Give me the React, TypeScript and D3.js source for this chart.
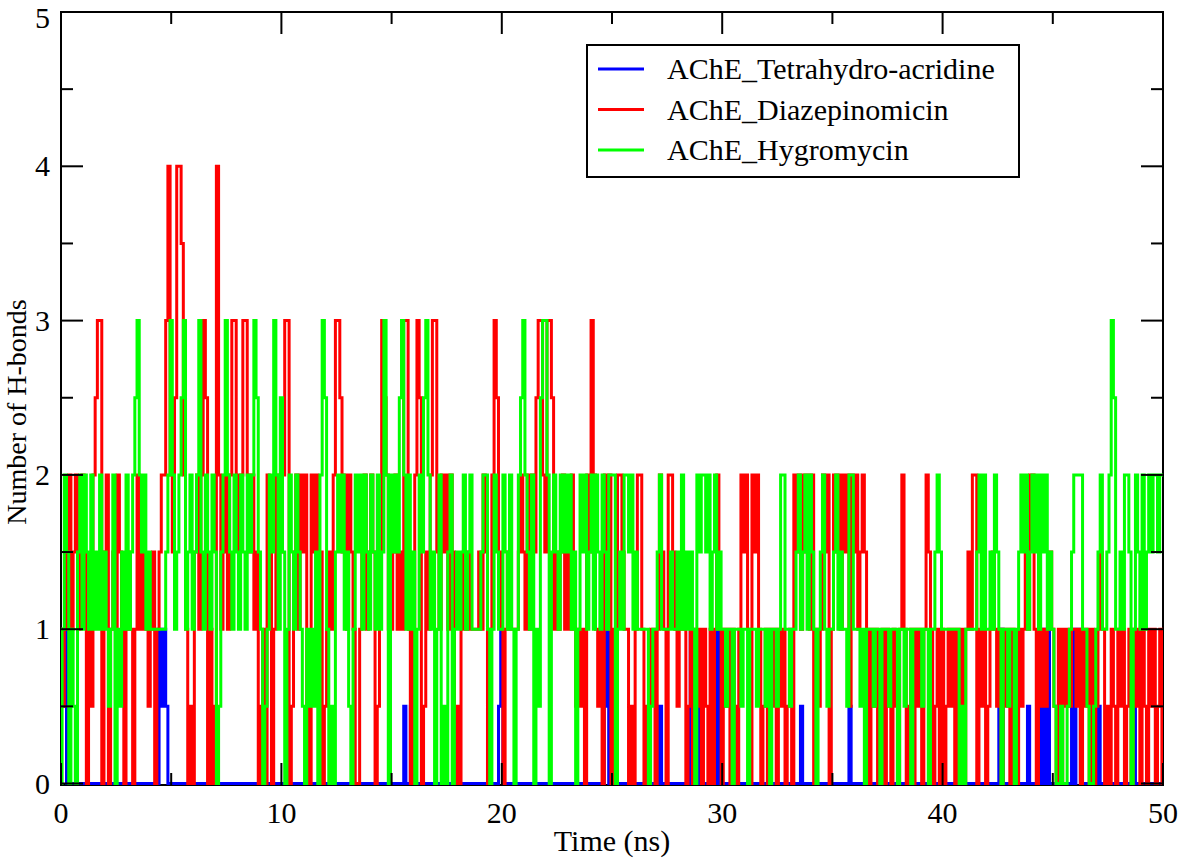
import React from 'react';
import * as d3 from 'd3';

const timeStep = 0.1;

const tetrahydroAcridine = [
  1, 0.5, 1, 0, 0, 0, 0, 0, 0, 0, 0, 0, 0, 0, 0, 0, 0, 0, 0, 0, 0, 0, 0, 0, 0, 0, 0, 0, 0, 0, 0, 0, 0, 0, 0, 0, 0, 0, 0, 0, 0, 0, 0, 0, 0, 1, 0.5, 1, 0.5, 0,
  0, 0, 0, 0, 0, 0, 0, 0, 0, 0, 0, 0, 0, 0, 0, 0, 0, 0, 0, 0, 0, 0, 0, 0, 0, 0, 0, 0, 0, 0, 0, 0, 0, 0, 0, 0, 0, 0, 0, 0, 0, 0, 0, 0, 0, 0, 0, 0, 0, 0,
  0, 0, 0, 0, 0, 0, 0, 0, 0, 0, 0, 0, 0, 0, 0, 0, 0, 0, 0, 0, 0, 0, 0, 0, 0, 0, 0, 0, 0, 0, 0, 0, 0, 0, 0, 0, 0, 0, 0, 0, 0, 0, 0, 0, 0, 0, 0, 0, 0, 0,
  0, 0, 0, 0, 0, 0, 0.5, 0, 0, 0.5, 0, 0, 0, 0, 0, 0, 0, 0, 0, 0, 0, 0, 0, 0, 0, 0, 0, 0, 0, 0, 0, 0, 0, 0, 0, 0, 0, 0, 0, 0, 0, 0, 0, 0, 0, 0, 0, 0, 0, 0.5,
  1, 0, 0, 0, 0, 0, 0, 0, 0, 0, 0, 0, 0, 0, 0, 0, 0, 0, 0, 0, 0, 0, 0, 0, 0, 0, 0, 0, 0, 0, 0, 0, 0, 0, 0, 0, 0, 0, 0, 0, 0, 0, 0, 0, 0, 0, 0, 0.5, 1, 0,
  0, 0, 0, 0, 0, 0, 0, 0, 0, 0, 0, 0, 0, 0, 0, 0, 0, 0, 0, 0, 0, 0, 0.5, 0, 0, 0, 0, 0, 0, 0, 0, 0, 0, 0, 0, 0, 1, 0, 0, 0, 0.5, 0, 0, 0, 0, 0, 0.5, 0, 1, 0,
  0, 0, 0, 0, 0, 0, 0, 0, 0, 0, 0, 0, 0, 0, 0, 0, 0, 0, 0, 0, 0, 0, 0, 0, 0, 0, 0, 0, 0, 0, 0, 0, 0, 0, 0, 0, 0.5, 0, 0, 0, 0, 0, 0, 0, 0, 0, 0, 0, 0, 0,
  0, 0, 0, 0, 0, 0, 0, 0, 0.5, 0, 0, 0, 0, 0, 0, 0, 0, 0, 0, 0, 0, 0, 0, 0, 0, 0, 0, 0, 0, 0, 0, 0, 0, 0, 0, 0, 0, 0, 0, 0, 0, 0, 0, 0, 0, 0, 0, 0, 0, 0,
  0, 0, 0, 0, 0, 0, 0, 0, 0, 0, 0, 0, 0, 0, 0, 0, 0, 0, 0, 0, 0, 0, 0, 0, 0, 0, 1, 1, 0, 0, 0, 0, 0, 0, 0, 0, 0, 0, 0, 0.5, 0, 0, 0, 0, 1, 0, 1, 0, 1, 0,
  0, 0, 0, 0, 0, 0, 0, 0, 0, 1, 0, 1, 1, 0, 0, 0, 0, 0, 0, 0, 0, 0.5, 0, 0, 0, 0, 0, 0, 0, 0, 0, 0, 0, 0, 0, 0, 0, 0.5, 0, 0, 0, 0, 0, 0, 0, 0, 0, 0, 0, 0, 0,
];

const diazepinomicin = [
  1, 0.5, 1, 1.5, 2, 1, 1.5, 2, 1, 1.5, 2, 1.5, 0, 1, 0.5, 2, 2.5, 3, 3, 0, 1.5, 2, 0, 1, 1.5, 1, 2, 1.5, 1, 0, 1, 1.5, 1, 0, 1, 2, 1, 1.5, 1, 1, 0.5, 1, 1.5, 0, 1, 1.5, 2, 2, 3, 4,
  2, 1.5, 2.5, 4, 4, 3.5, 2, 1, 0, 0.5, 0, 1.5, 2, 1, 2, 3, 2.5, 0, 1, 0, 0.5, 4, 2, 1, 1.5, 2, 1, 2, 3, 3, 2, 1.5, 2, 3, 3, 2, 1.5, 2, 1, 1.5, 0, 0.5, 1, 0, 2, 1.5, 0, 1, 2, 1.5,
  1.5, 2, 3, 3, 0, 0.5, 1.5, 2, 1, 2, 1.5, 2, 0.5, 0, 2, 1.5, 2, 1, 1.5, 0, 0.5, 1, 1.5, 1, 2, 3, 3, 2.5, 1.5, 2, 1, 2, 1.5, 1, 0, 0, 1, 1.5, 2, 1, 1.5, 2, 1.5, 0, 0.5, 1.5, 3, 2.5, 2, 1,
  1, 1.5, 2, 1, 1.5, 1, 3, 3, 1, 0, 1, 2, 3, 2.5, 0, 0.5, 1.5, 1, 2, 3, 3, 1.5, 1, 2, 1.5, 2, 1, 2, 1.5, 0, 0.5, 0, 1, 1.5, 1, 1.5, 1, 1, 1, 1, 1.5, 1, 2, 1.5, 0, 1, 2, 3, 2.5, 1.5,
  1, 0, 1, 1.5, 1, 1, 1, 1, 1.5, 2, 1.5, 1, 2, 1, 2, 1.5, 2.5, 3, 3, 2, 1.5, 3, 3, 2.5, 1, 1.5, 1, 1.5, 2, 1, 1.5, 1, 2, 1, 0.5, 1, 0.5, 1, 0, 2, 1.5, 3, 2, 1, 0.5, 1, 0, 2, 1, 2,
  0, 1, 0.5, 2, 2, 1.5, 1, 1, 0, 0.5, 0, 1, 2, 2, 1, 0, 0.5, 0, 1, 1, 0, 1, 2, 1.5, 1, 0, 2, 2, 1.5, 1, 0.5, 1, 1.5, 1, 0, 0.5, 1, 0, 1, 0.5, 1, 0, 1, 0.5, 0, 1, 0, 1, 2, 1,
  0, 1, 0.5, 1, 0, 1, 0.5, 0, 1, 2, 1.5, 2, 1, 0, 2, 1.5, 2, 1, 0, 0.5, 1, 0, 1, 0.5, 1, 0, 1, 0.5, 1, 0, 0.5, 1, 0, 2, 1.5, 2, 1, 2, 1.5, 2, 1, 2, 0, 1, 0.5, 1, 2, 1.5, 2, 0,
  1, 2, 1.5, 2, 1, 2, 1.5, 2, 0.5, 2, 1.5, 2, 1, 1.5, 2, 1.5, 1, 0, 1, 0.5, 1, 0, 0.5, 1, 0, 1, 0.5, 0, 1, 0.5, 0, 1, 2, 1, 0, 0.5, 1, 0, 1, 0.5, 1, 0, 1, 2, 1.5, 1, 0, 0.5, 1, 0,
  1, 0, 0.5, 1, 0.5, 1, 0, 1, 0.5, 1, 0, 1, 1.5, 1, 2, 2, 0, 1, 0.5, 1, 0, 0.5, 1, 1.5, 1, 0.5, 1, 0, 1, 0.5, 1, 0, 1, 0.5, 0, 1, 0.5, 1, 1.5, 1, 2, 2, 1, 0, 1, 0.5, 1, 0.5, 1, 1.5,
  1, 0.5, 0, 1, 0, 1, 0.5, 1, 0.5, 1, 1, 0.5, 1, 0, 1, 0.5, 1, 0, 1, 0, 0.5, 1, 1.5, 1, 0, 0.5, 0, 1, 0.5, 0, 1, 0.5, 1, 0, 0.5, 1, 0, 1, 0.5, 1, 0, 1, 0.5, 0, 1, 0.5, 1, 0, 0.5, 1, 0,
];

const hygromycin = [
  0, 1, 2, 1.5, 0, 1, 0.5, 0, 1.5, 2, 1, 2, 1.5, 1, 2, 1, 1.5, 1, 2, 1, 1.5, 1, 0.5, 1, 2, 0, 1, 0.5, 1.5, 1, 2, 1, 1.5, 2, 2.5, 3, 2, 1.5, 2, 1, 1.5, 1, 1, 1, 1, 1, 1, 1, 1.5, 2,
  3, 2, 1, 1.5, 2, 2.5, 3, 1, 1.5, 2, 1, 1.5, 2, 3, 1.5, 1, 2, 1.5, 1, 2, 1.5, 0, 0.5, 1.5, 2, 3, 2, 1.5, 1, 2, 1.5, 1, 2, 1.5, 1, 2, 1.5, 2, 3, 2.5, 1.5, 1, 0, 0.5, 1, 2, 1.5, 3, 2, 1,
  2.5, 1.5, 0, 1, 2, 1.5, 1, 2, 1.5, 1, 0.5, 0, 1, 0.5, 1, 0.5, 1.5, 0, 2, 3, 2.5, 1, 0, 0.5, 0, 1.5, 2, 1.5, 2, 1, 1.5, 0.5, 0, 1, 2, 1.5, 2, 1, 2, 1.5, 1, 2, 1.5, 1, 2, 1, 1.5, 3, 2, 0,
  2, 1.5, 2, 1.5, 2.5, 3, 2, 1, 2, 1, 1.5, 0, 1, 2, 1.5, 2.5, 3, 2, 1, 1.5, 0, 1, 2, 0, 0.5, 0, 1.5, 2, 0, 1, 1.5, 1, 1.5, 2, 1, 1.5, 2, 1, 1, 1, 1, 1.5, 2, 2, 1, 0, 1, 2, 1.5, 1,
  1, 2, 1.5, 1, 2, 1, 0, 1, 2, 2.5, 3, 2, 1.5, 1, 2, 0, 1, 0.5, 2.5, 3, 3, 2, 0, 1.5, 2, 1.5, 1, 2, 1.5, 2, 1.5, 2, 1, 1.5, 0, 1, 2, 1.5, 2, 1, 1.5, 2, 1, 2, 1.5, 1, 2, 1.5, 1, 2,
  2, 2, 0, 1, 1.5, 1, 2, 2, 1.5, 2, 1, 1.5, 1, 1, 1, 1, 1, 0, 0.5, 1, 1, 1.5, 2, 1, 1, 1, 1, 1.5, 1, 1, 1.5, 1, 2, 1, 1.5, 1, 1.5, 1, 0, 2, 1.5, 2, 2, 1.5, 2, 1, 1.5, 2, 1, 1.5,
  1, 1, 0.5, 1, 1, 0, 1, 1, 1, 0.5, 1, 1, 0, 1, 1, 1, 0.5, 1, 1, 1, 0.5, 1, 0, 1, 1, 0.5, 1, 2, 2, 1, 1, 0.5, 1, 1, 1.5, 2, 1, 1.5, 2, 1, 2, 1.5, 1, 0, 1, 1.5, 2, 1, 0.5, 1,
  1, 1.5, 2, 1, 1.5, 1, 1, 0.5, 2, 2, 1, 1, 1, 0.5, 1, 0, 1, 1, 1, 0.5, 1, 1, 0, 1, 1, 1, 0.5, 1, 1, 1, 0, 1, 1, 0.5, 1, 1, 0, 1, 1, 1, 1, 0.5, 1, 1, 0, 1, 1, 1.5, 2, 1.5,
  1, 1, 1, 1, 1, 1, 1, 1, 0, 0.5, 0, 1, 1, 1, 1, 1, 1.5, 2, 1, 2, 1, 1, 1.5, 1, 2, 1.5, 1, 0, 1, 1, 0.5, 1, 1, 0, 1, 1.5, 2, 1.5, 2, 1, 1.5, 2, 1.5, 2, 1, 2, 1.5, 2, 1, 1.5,
  1, 0.5, 0, 0, 0.5, 0, 0, 0.5, 1, 1.5, 2, 2, 2, 2, 1, 1, 0.5, 0, 0, 0.5, 1, 1.5, 2, 1, 1, 1.5, 2, 3, 2.5, 1, 1, 1.5, 1, 2, 2, 1.5, 0, 1, 2, 1.5, 1, 2, 1, 1.5, 2, 1.5, 2, 2, 1.5, 2, 2,
];

const seriesNames = ['AChE_Tetrahydro-acridine', 'AChE_Diazepinomicin', 'AChE_Hygromycin'];
const seriesColors = ['#0000ff', '#ff0000', '#00ff00'];
const seriesValues = [tetrahydroAcridine, diazepinomicin, hygromycin];

const xMajorTicks = [0, 10, 20, 30, 40, 50];
const xMinorTicks = [5, 15, 25, 35, 45];
const yMajorTicks = [0, 1, 2, 3, 4, 5];
const yMinorTicks = [0.5, 1.5, 2.5, 3.5, 4.5];

const W = 1180;
const H = 858;
const left = 61;
const right = 1163;
const top = 12;
const bottom = 785;
const font = '"Liberation Serif", "Times New Roman", serif';

export default function App() {
  const x = d3.scaleLinear().domain([0, 50]).range([left, right]);
  const y = d3.scaleLinear().domain([0, 5]).range([bottom - 1.5, top]);

  // trajectory frames are dense, so transitions read as vertical jumps
  const line = d3.line<number>()
    .x((d, i) => x(i * timeStep))
    .y(d => y(d))
    .curve(d3.curveStep);

  const major = 22;
  const minor = 12;

  return (
    <div style={{ position: 'absolute', left: 0, top: 0 }}>
      <svg width={W} height={H} style={{ display: 'block', background: '#fff' }}>
        <defs>
          <clipPath id="plot">
            <rect x={left} y={top - 2} width={right - left} height={bottom - top + 2} />
          </clipPath>
        </defs>

        {/* frame */}
        <rect x={left} y={top} width={right - left} height={bottom - top}
          fill="none" stroke="#000" strokeWidth={2} />

        {/* data */}
        <g clipPath="url(#plot)">
          {seriesValues.map((vals, k) => (
            <path key={k} d={line(vals) || ''} fill="none" stroke={seriesColors[k]}
              strokeWidth={3} strokeLinejoin="miter" />
          ))}
        </g>

        {/* x ticks */}
        {xMajorTicks.map(t => (
          <g key={'xM' + t}>
            <line x1={x(t)} x2={x(t)} y1={bottom} y2={bottom - major} stroke="#000" strokeWidth={2} />
            <line x1={x(t)} x2={x(t)} y1={top} y2={top + major} stroke="#000" strokeWidth={2} />
            <text x={x(t)} y={823} textAnchor="middle" fontFamily={font} fontSize={30}>{t}</text>
          </g>
        ))}
        {xMinorTicks.map(t => (
          <g key={'xm' + t}>
            <line x1={x(t)} x2={x(t)} y1={bottom} y2={bottom - minor} stroke="#000" strokeWidth={2} />
            <line x1={x(t)} x2={x(t)} y1={top} y2={top + minor} stroke="#000" strokeWidth={2} />
          </g>
        ))}

        {/* y ticks */}
        {yMajorTicks.map(t => (
          <g key={'yM' + t}>
            <line x1={left} x2={left + major} y1={y(t)} y2={y(t)} stroke="#000" strokeWidth={2} />
            <line x1={right} x2={right - major} y1={y(t)} y2={y(t)} stroke="#000" strokeWidth={2} />
            <text x={50} y={Math.max(y(t) + 10, 28)} textAnchor="end" fontFamily={font} fontSize={30}>{t}</text>
          </g>
        ))}
        {yMinorTicks.map(t => (
          <g key={'ym' + t}>
            <line x1={left} x2={left + minor} y1={y(t)} y2={y(t)} stroke="#000" strokeWidth={2} />
            <line x1={right} x2={right - minor} y1={y(t)} y2={y(t)} stroke="#000" strokeWidth={2} />
          </g>
        ))}

        {/* axis titles */}
        <text x={612} y={851} textAnchor="middle" fontFamily={font} fontSize={30}>Time (ns)</text>
        <text transform="translate(26,412) rotate(-90)" textAnchor="middle" fontFamily={font} fontSize={28}>
          Number of H-bonds
        </text>

        {/* legend */}
        <rect x={587} y={45} width={432} height={132} fill="#fff" stroke="#000" strokeWidth={2} />
        {seriesNames.map((name, k) => (
          <g key={name}>
            <line x1={598} x2={644} y1={69 + k * 40.5} y2={69 + k * 40.5} stroke={seriesColors[k]} strokeWidth={3} />
            <text x={667} y={79 + k * 40.5} fontFamily={font} fontSize={30}>{name}</text>
          </g>
        ))}
      </svg>
    </div>
  );
}
